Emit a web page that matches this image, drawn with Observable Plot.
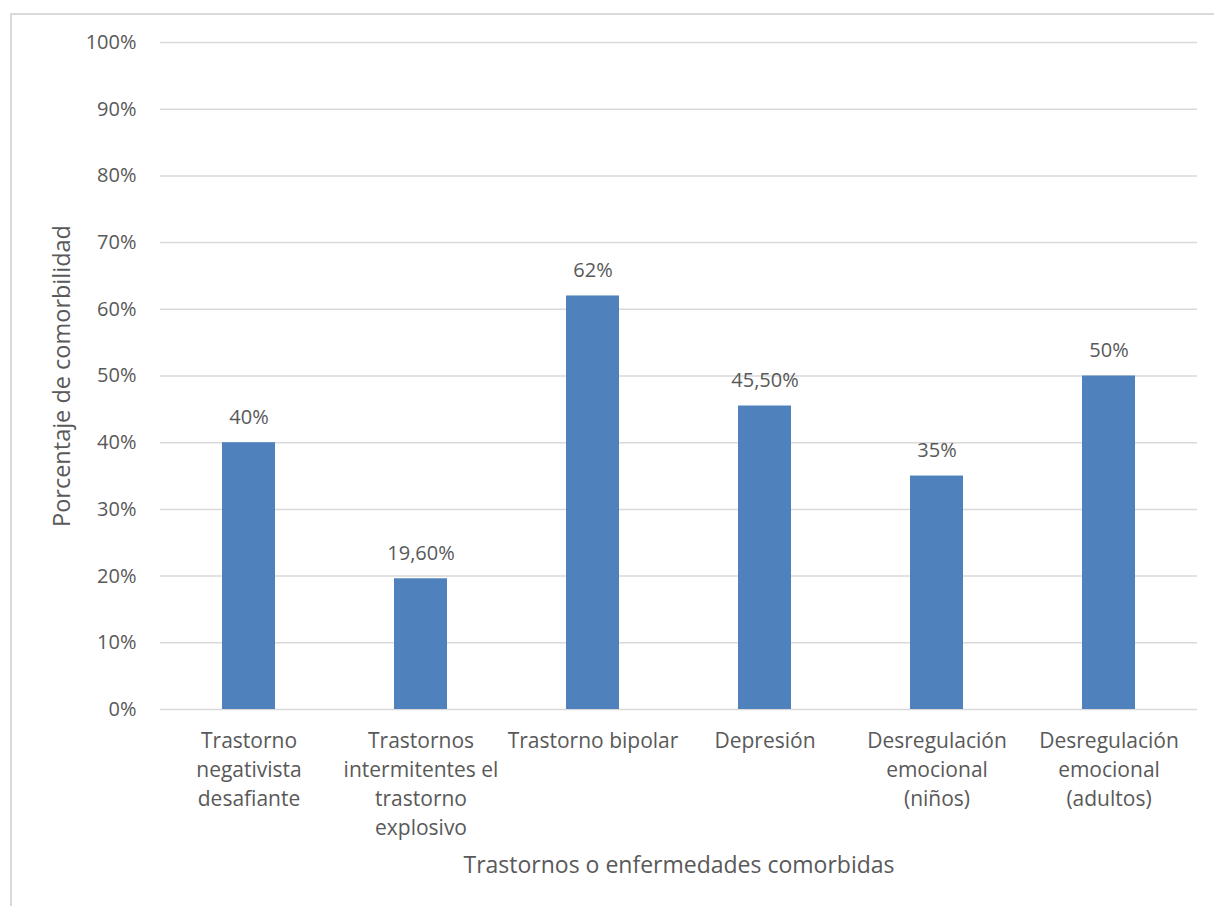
<!DOCTYPE html>
<html>
<head>
<meta charset="utf-8">
<script src="https://cdn.jsdelivr.net/npm/d3@7"></script>
<script src="https://cdn.jsdelivr.net/npm/@observablehq/plot@0.6"></script>
<style>
  html, body { margin: 0; padding: 0; background: #fff; }
  #wrap { position: relative; width: 1214px; height: 906px; overflow: hidden; }
  #frame { position: absolute; left: 10px; top: 13px; width: 1300px; height: 1000px;
           border-left: 2px solid #d9d9d9; border-top: 2px solid #d9d9d9; box-sizing: border-box; }
  #chart { position: absolute; left: 0; top: 0; }
</style>
</head>
<body>
<div id="wrap"><div id="frame"></div><div id="chart"></div></div>
<script>
// Comorbidity percentages per disorder
const categories = [
  "Trastorno\nnegativista\ndesafiante",
  "Trastornos\nintermitentes el\ntrastorno\nexplosivo",
  "Trastorno bipolar",
  "Depresión",
  "Desregulación\nemocional\n(niños)",
  "Desregulación\nemocional\n(adultos)"
];
const values = [40, 19.6, 62, 45.5, 35, 50];
const yTicks = [0, 10, 20, 30, 40, 50, 60, 70, 80, 90, 100];
const yLabel = "Porcentaje de comorbilidad";
const xLabel = "Trastornos o enfermedades comorbidas";

const fmt = v => (Number.isInteger(v) ? String(v) : v.toFixed(2).replace(".", ",")) + "%";
const data = categories.map((c, i) => ({category: c, value: values[i], label: fmt(values[i])}));

const textColor = "#595959";

const chart = Plot.plot({
  width: 1214,
  height: 906,
  marginLeft: 160,
  marginRight: 17,
  marginTop: 42,
  marginBottom: 197,
  style: {fontFamily: "'Open Sans', sans-serif", fontSize: "20px", color: textColor, background: "transparent"},
  x: {domain: categories, paddingInner: 0.69, paddingOuter: 0.345},
  y: {domain: [0, 100]},
  marks: [
    Plot.ruleY(yTicks, {stroke: "#d9d9d9", strokeWidth: 1.5}),
    Plot.barY(data, {x: "category", y: "value", fill: "#4f81bd"}),
    Plot.text(data, {x: "category", y: "value", text: "label", dy: -25, fill: textColor, fontSize: 20}),
    Plot.axisY(yTicks, {tickSize: 0, tickPadding: 24, tickFormat: d => d + "%", label: null, fill: textColor, fontSize: 20}),
    Plot.axisX({tickSize: 0, tickPadding: 18, label: null, lineHeight: 1.38, fill: textColor, fontSize: 21}),
    Plot.text([yLabel], {frameAnchor: "left", textAnchor: "middle", dx: -98, rotate: -90, fill: textColor, fontSize: 23.5}),
    Plot.text([xLabel], {frameAnchor: "bottom", dy: 163, fill: textColor, fontSize: 23})
  ]
});
document.getElementById("chart").appendChild(chart);
</script>
</body>
</html>
